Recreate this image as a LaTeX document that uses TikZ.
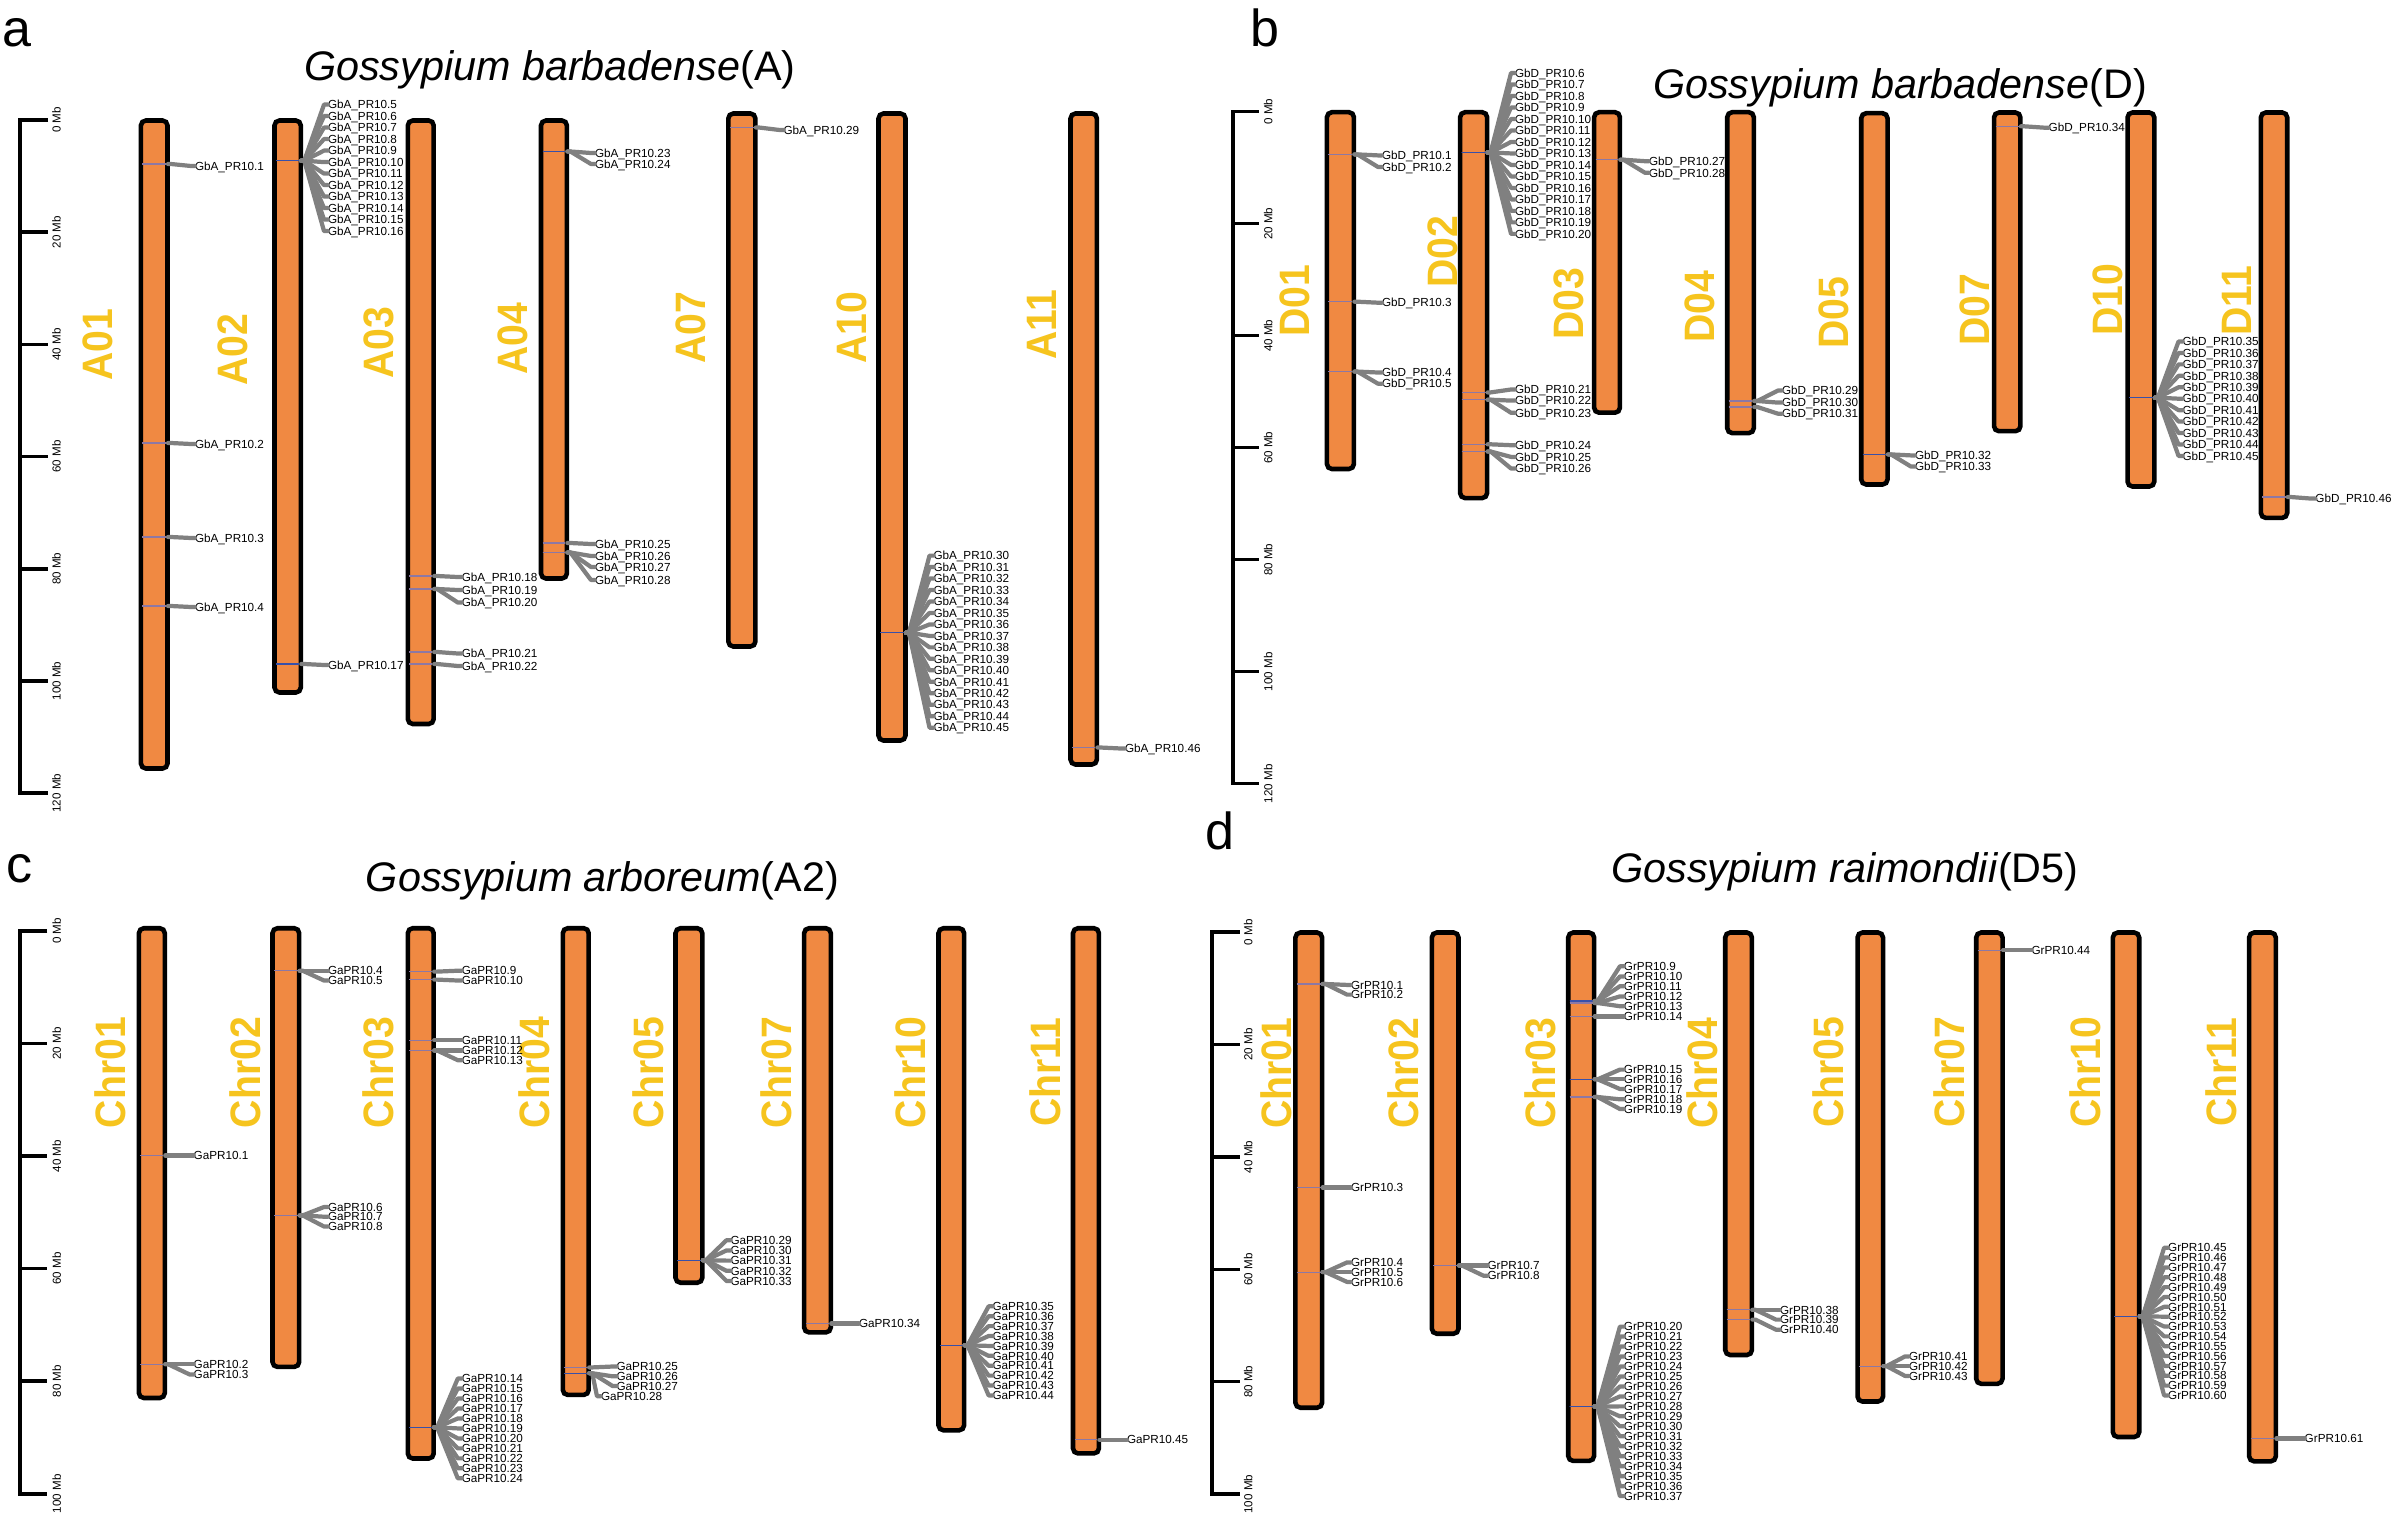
\documentclass[tikz,border=0pt]{standalone}
\usepackage{fontspec}
\setmainfont{Liberation Sans}
\usepackage{graphicx}
\definecolor{chrfill}{RGB}{240,137,66}
\definecolor{chrlabc}{RGB}{246,196,30}
\definecolor{connc}{RGB}{128,128,128}
\definecolor{mkp}{RGB}{140,120,165}
\definecolor{mkb}{RGB}{55,80,170}
\newcommand\glabfont{\fontsize{3.33pt}{4pt}\selectfont}
\newcommand\ticfont{\fontsize{3.3pt}{4pt}\selectfont}
\newcommand\chrfont{\fontsize{12.1pt}{14pt}\selectfont\bfseries}
\newcommand\titfont{\fontsize{11.75pt}{14pt}\selectfont}
\newcommand\letfont{\fontsize{14.8pt}{17pt}\selectfont}
\tikzset{
  chromo/.style={draw=black, fill=chrfill, line width=1.3pt, rounded corners=0.05cm, inner sep=0pt, outer sep=0pt},
  chrlab/.style={rotate=90, text=chrlabc, font=\chrfont, inner sep=0pt},
  glabel/.style={anchor=west, inner sep=0pt, outer sep=0pt, font=\glabfont, text height=2.4pt, text depth=0pt},
  conn/.style={draw=connc, line width=1.2pt, line cap=round, line join=round},
  mkline/.style={line width=0.35pt},
  rul/.style={draw=black, line width=1pt},
  ticlab/.style={rotate=90, font=\ticfont, inner sep=0pt},
  titl/.style={font=\titfont, anchor=base, inner sep=0pt},
  plet/.style={font=\letfont, anchor=base west, inner sep=0pt}
}
\newcommand\cur[3]{\def\cxl{#1}\def\cxr{#2}\def\cxlab{#3}}
\newcommand\gene[5]{%
  \draw[mkline, draw=#5] (\cxl+2,#2) -- (\cxr-2,#2);
  \coordinate (m#1) at (\cxr,#2);
  \node[glabel] (g#1) at (\cxlab,#3) {#4};
  \draw[conn] (m#1) -- ++(3,0) -- ([xshift=-0.04cm]g#1.west) -- (g#1.west);
}
\newcommand\clus[8]{%
  \foreach \nn in {#2,...,#3}{%
    \pgfmathsetmacro\yy{#5+#6*(\nn-#2)}%
    \gene{#1\nn}{#4}{\yy}{#7\nn}{#8}}%
}
\newcommand\chromo[8]{%
  \node[chrlab] (l#1) at (#6,#7) {\scalebox{0.92}[1]{#8}};
  \node[chromo, minimum width={(#3-#2-1)*0.01cm}, minimum height={(#5-#4-1)*0.01cm}] (c#1) at ({(#2+#3)/2},{(#4+#5)/2}) {};
}
\newcommand\ruler[7]{%
  \draw[rul] (#3,#4) -- (#2,#4) -- (#2,{#4+#6*#5}) -- (#3,{#4+#6*#5});
  \foreach \mm in {0,20,...,#6}{%
    \draw[rul] (#2,{#4+\mm*#5}) -- (#3,{#4+\mm*#5});
    \node[ticlab] (r#1\mm) at (#7,{#4+\mm*#5}) {\mm\ Mb};}%
}
\begin{document}
\begin{tikzpicture}[x=0.01cm, y=-0.01cm]
\useasboundingbox[fill=white] (0,0) rectangle (2395,1515);
% panel letters and titles
\node[plet] (pa) at (2,46) {a};
\node[plet] (pb) at (1250,46) {b};
\node[plet] (pc) at (6,882) {c};
\node[plet] (pd) at (1205,849) {d};
\node[titl] (ta) at (549.8,80) {\textit{Gossypium barbadense}(A)};
\node[titl] (tb) at (1900,98) {\textit{Gossypium barbadense}(D)};
\node[titl] (tc) at (602.4,891) {\textit{Gossypium arboreum}(A2)};
\node[titl] (td) at (1845,882.8) {\textit{Gossypium raimondii}(D5)};
% rulers
\ruler{a}{20}{48.2}{120}{5.61}{120}{56.5}
\ruler{b}{1233}{1258.7}{111.7}{5.6}{120}{1268.3}
\ruler{c}{20}{47.4}{930.8}{5.63}{100}{56.7}
\ruler{d}{1211.9}{1239.5}{932.1}{5.62}{100}{1248.2}
% ---------- panel a ----------
\chromo{aA01}{140.4}{168}{120}{769}{98}{344.5}{A01}
\chromo{aA02}{274}{301.3}{120}{693}{232.5}{349.5}{A02}
\chromo{aA03}{407.3}{434.2}{120}{724.5}{379}{343}{A03}
\chromo{aA04}{540.5}{567.4}{120}{579}{512.8}{339}{A04}
\chromo{aA07}{727.8}{755.9}{113}{647}{690.4}{328}{A07}
\chromo{aA10}{878}{906}{113}{741}{852}{328}{A10}
\chromo{aA11}{1070}{1097.4}{113}{765}{1042}{325}{A11}
\cur{140.4}{168}{195}
\gene{a1}{164}{166}{GbA\_PR10.1}{mkp}
\gene{a2}{443}{444}{GbA\_PR10.2}{mkp}
\gene{a3}{537}{538}{GbA\_PR10.3}{mkp}
\gene{a4}{606}{607}{GbA\_PR10.4}{mkp}
\cur{274}{301.3}{328}
\clus{a}{5}{16}{160.7}{104.6}{11.5}{GbA\_PR10.}{mkb}
\gene{a17}{664}{665}{GbA\_PR10.17}{mkb}
\cur{407.3}{434.2}{461.8}
\gene{a18}{576}{577}{GbA\_PR10.18}{mkp}
\gene{a19}{589}{590}{GbA\_PR10.19}{mkp}
\gene{a20}{589}{602.5}{GbA\_PR10.20}{mkp}
\gene{a21}{652}{653.5}{GbA\_PR10.21}{mkp}
\gene{a22}{664}{666}{GbA\_PR10.22}{mkp}
\cur{540.5}{567.4}{595}
\gene{a23}{151.5}{153}{GbA\_PR10.23}{mkb}
\gene{a24}{151.5}{164}{GbA\_PR10.24}{mkb}
\gene{a25}{543}{544}{GbA\_PR10.25}{mkp}
\gene{a26}{552.5}{556}{GbA\_PR10.26}{mkp}
\gene{a27}{552.5}{567}{GbA\_PR10.27}{mkp}
\gene{a28}{552.5}{580}{GbA\_PR10.28}{mkp}
\cur{727.8}{755.9}{783.6}
\gene{a29}{127.5}{130}{GbA\_PR10.29}{mkp}
\cur{878}{906}{933.5}
\clus{a}{30}{45}{632.7}{555.6}{11.47}{GbA\_PR10.}{mkb}
\cur{1070}{1097.4}{1125}
\gene{a46}{747.5}{748.5}{GbA\_PR10.46}{mkp}
% ---------- panel b ----------
\chromo{bD01}{1326.4}{1354.4}{111.7}{469.5}{1295}{300.5}{D01}
\chromo{bD02}{1459.6}{1487.6}{111.7}{498.6}{1442.4}{252}{D02}
\chromo{bD03}{1593.6}{1620.4}{111.7}{413.2}{1568.7}{304}{D03}
\chromo{bD04}{1726.7}{1754.3}{111.7}{433.6}{1700}{306.6}{D04}
\chromo{bD05}{1860.7}{1888}{112.7}{485}{1833.4}{312.6}{D05}
\chromo{bD07}{1993.5}{2020.9}{112}{431.7}{1975.2}{310}{D07}
\chromo{bD10}{2127}{2154.8}{112}{487}{2108}{299.4}{D10}
\chromo{bD11}{2260.3}{2287.7}{112}{518.4}{2236.4}{300.5}{D11}
\cur{1326.4}{1354.4}{1382}
\gene{b1}{154.4}{155.4}{GbD\_PR10.1}{mkp}
\gene{b2}{154.4}{167}{GbD\_PR10.2}{mkp}
\gene{b3}{301.7}{302.7}{GbD\_PR10.3}{mkp}
\gene{b4}{371.6}{372.5}{GbD\_PR10.4}{mkp}
\gene{b5}{371.6}{383.7}{GbD\_PR10.5}{mkp}
\cur{1459.6}{1487.6}{1515}
\clus{b}{6}{20}{152.5}{73}{11.49}{GbD\_PR10.}{mkb}
\gene{b21}{392.4}{389.5}{GbD\_PR10.21}{mkp}
\gene{b22}{399.7}{400.6}{GbD\_PR10.22}{mkp}
\gene{b23}{399.7}{412.8}{GbD\_PR10.23}{mkp}
\gene{b24}{444.3}{445.2}{GbD\_PR10.24}{mkp}
\gene{b25}{451.5}{456.9}{GbD\_PR10.25}{mkp}
\gene{b26}{451.5}{468.5}{GbD\_PR10.26}{mkp}
\cur{1593.6}{1620.4}{1649}
\gene{b27}{159.7}{161.2}{GbD\_PR10.27}{mkp}
\gene{b28}{159.7}{172.8}{GbD\_PR10.28}{mkp}
\cur{1726.7}{1754.3}{1782}
\gene{b29}{401}{390.5}{GbD\_PR10.29}{mkp}
\gene{b30}{401}{402.6}{GbD\_PR10.30}{mkp}
\gene{b31}{407}{413.7}{GbD\_PR10.31}{mkp}
\cur{1860.7}{1888}{1915}
\gene{b32}{454.4}{455.4}{GbD\_PR10.32}{mkb}
\gene{b33}{454.4}{466.6}{GbD\_PR10.33}{mkb}
\cur{1993.5}{2020.9}{2048.6}
\gene{b34}{126.3}{127.7}{GbD\_PR10.34}{mkp}
\cur{2127}{2154.8}{2182.5}
\clus{b}{35}{45}{397.7}{341.5}{11.44}{GbD\_PR10.}{mkb}
\cur{2260.3}{2287.7}{2315.4}
\gene{b46}{497}{498.6}{GbD\_PR10.46}{mkp}
% ---------- panel c ----------
\chromo{cChr01}{138.4}{165.3}{927.7}{1398.5}{110.7}{1072.5}{Chr01}
\chromo{cChr02}{272}{299.7}{927.7}{1367.4}{245}{1072.5}{Chr02}
\chromo{cChr03}{407.3}{434.2}{927.7}{1459}{378.8}{1072.5}{Chr03}
\chromo{cChr04}{562.3}{589.2}{927.7}{1395.4}{533.8}{1072.5}{Chr04}
\chromo{cChr05}{675}{702.8}{927.7}{1283.2}{648.2}{1072.5}{Chr05}
\chromo{cChr07}{803.6}{831.3}{927.7}{1332.9}{776.7}{1072.5}{Chr07}
\chromo{cChr10}{938}{964.6}{927.7}{1430.8}{910.4}{1072.5}{Chr10}
\chromo{cChr11}{1072.5}{1099.4}{927.7}{1453.9}{1044.8}{1072.5}{Chr11}
\cur{138.4}{165.3}{193.7}
\gene{c1}{1155.5}{1155.5}{GaPR10.1}{mkp}
\gene{c2}{1364.3}{1364.3}{GaPR10.2}{mkp}
\gene{c3}{1364.3}{1374.5}{GaPR10.3}{mkp}
\cur{272}{299.7}{328}
\gene{c4}{970.7}{970.7}{GaPR10.4}{mkp}
\gene{c5}{970.7}{980.5}{GaPR10.5}{mkp}
\gene{c6}{1215.4}{1207}{GaPR10.6}{mkp}
\gene{c7}{1215.4}{1216.7}{GaPR10.7}{mkp}
\gene{c8}{1215.4}{1226.5}{GaPR10.8}{mkp}
\cur{407.3}{434.2}{461.8}
\gene{c9}{971.6}{970.7}{GaPR10.9}{mkp}
\gene{c10}{979.6}{980.5}{GaPR10.10}{mkp}
\gene{c11}{1040.3}{1040.3}{GaPR10.11}{mkp}
\gene{c12}{1050.5}{1050.5}{GaPR10.12}{mkp}
\gene{c13}{1050.5}{1060.2}{GaPR10.13}{mkp}
\clus{c}{14}{24}{1427.3}{1378.5}{9.98}{GaPR10.}{mkb}
\cur{562.3}{589.2}{616.6}
\gene{c25}{1367.4}{1366.5}{GaPR10.25}{mkp}
\gene{c26}{1373.2}{1376.3}{GaPR10.26}{mkb}
\gene{c27}{1373.2}{1386}{GaPR10.27}{mkb}
\cur{562.3}{589.2}{601}
\gene{c28}{1373.2}{1396.2}{GaPR10.28}{mkb}
\cur{675}{702.8}{730.5}
\clus{c}{29}{33}{1260.2}{1240.2}{10.2}{GaPR10.}{mkb}
\cur{803.6}{831.3}{859}
\gene{c34}{1323.5}{1323.5}{GaPR10.34}{mkp}
\cur{938}{964.6}{992.6}
\clus{c}{35}{44}{1345.3}{1306.3}{9.9}{GaPR10.}{mkb}
\cur{1072.5}{1099.4}{1127}
\gene{c45}{1439.7}{1439.7}{GaPR10.45}{mkp}
% ---------- panel d ----------
\chromo{dChr01}{1294.9}{1322.6}{932}{1408.2}{1275.9}{1073}{Chr01}
\chromo{dChr02}{1431.3}{1459}{932}{1334.2}{1403.6}{1073}{Chr02}
\chromo{dChr03}{1567.7}{1594.6}{932}{1461.4}{1540}{1073}{Chr03}
\chromo{dChr04}{1724.7}{1752.4}{932}{1355.5}{1702.2}{1073}{Chr04}
\chromo{dChr05}{1857}{1883.5}{932}{1402}{1828.5}{1072}{Chr05}
\chromo{dChr07}{1975.7}{2003}{932}{1384.3}{1948.8}{1072}{Chr07}
\chromo{dChr10}{2112.3}{2139.7}{932}{1437.5}{2085.4}{1072}{Chr10}
\chromo{dChr11}{2248.6}{2276.3}{932}{1461.8}{2221.3}{1072}{Chr11}
\cur{1294.9}{1322.6}{1351}
\gene{d1}{984}{984.9}{GrPR10.1}{mkp}
\gene{d2}{984}{994.6}{GrPR10.2}{mkp}
\gene{d3}{1187.5}{1187.5}{GrPR10.3}{mkp}
\gene{d4}{1272.1}{1262.4}{GrPR10.4}{mkp}
\gene{d5}{1272.1}{1272.1}{GrPR10.5}{mkp}
\gene{d6}{1272.1}{1281.9}{GrPR10.6}{mkp}
\cur{1431.3}{1459}{1487.5}
\gene{d7}{1265.5}{1265.5}{GrPR10.7}{mkp}
\gene{d8}{1265.5}{1275.7}{GrPR10.8}{mkp}
\cur{1567.7}{1594.6}{1623.9}
\gene{d9}{1001}{966.3}{GrPR10.9}{mkb}
\gene{d10}{1001}{976.5}{GrPR10.10}{mkb}
\gene{d11}{1001}{986.2}{GrPR10.11}{mkb}
\gene{d12}{1003}{996.4}{GrPR10.12}{mkp}
\gene{d13}{1003}{1006.2}{GrPR10.13}{mkp}
\gene{d14}{1016.4}{1016.4}{GrPR10.14}{mkp}
\gene{d15}{1079.3}{1069.6}{GrPR10.15}{mkb}
\gene{d16}{1079.3}{1079.3}{GrPR10.16}{mkb}
\gene{d17}{1079.3}{1089}{GrPR10.17}{mkb}
\gene{d18}{1097}{1099.3}{GrPR10.18}{mkp}
\gene{d19}{1097}{1109}{GrPR10.19}{mkp}
\clus{d}{20}{37}{1406.4}{1326.6}{9.97}{GrPR10.}{mkb}
\cur{1724.7}{1752.4}{1780}
\gene{d38}{1309.8}{1309.8}{GrPR10.38}{mkp}
\gene{d39}{1309.8}{1319.6}{GrPR10.39}{mkp}
\gene{d40}{1319.6}{1329.7}{GrPR10.40}{mkp}
\cur{1857}{1883.5}{1909}
\gene{d41}{1366.1}{1356.4}{GrPR10.41}{mkp}
\gene{d42}{1366.1}{1366.1}{GrPR10.42}{mkp}
\gene{d43}{1366.1}{1375.9}{GrPR10.43}{mkp}
\cur{1975.7}{2003}{2031.5}
\gene{d44}{950.3}{950.3}{GrPR10.44}{mkp}
\cur{2112.3}{2139.7}{2168.1}
\clus{d}{45}{60}{1316.4}{1247.7}{9.85}{GrPR10.}{mkb}
\cur{2248.6}{2276.3}{2304.7}
\gene{d61}{1438.4}{1438.4}{GrPR10.61}{mkp}
\end{tikzpicture}
\end{document}
